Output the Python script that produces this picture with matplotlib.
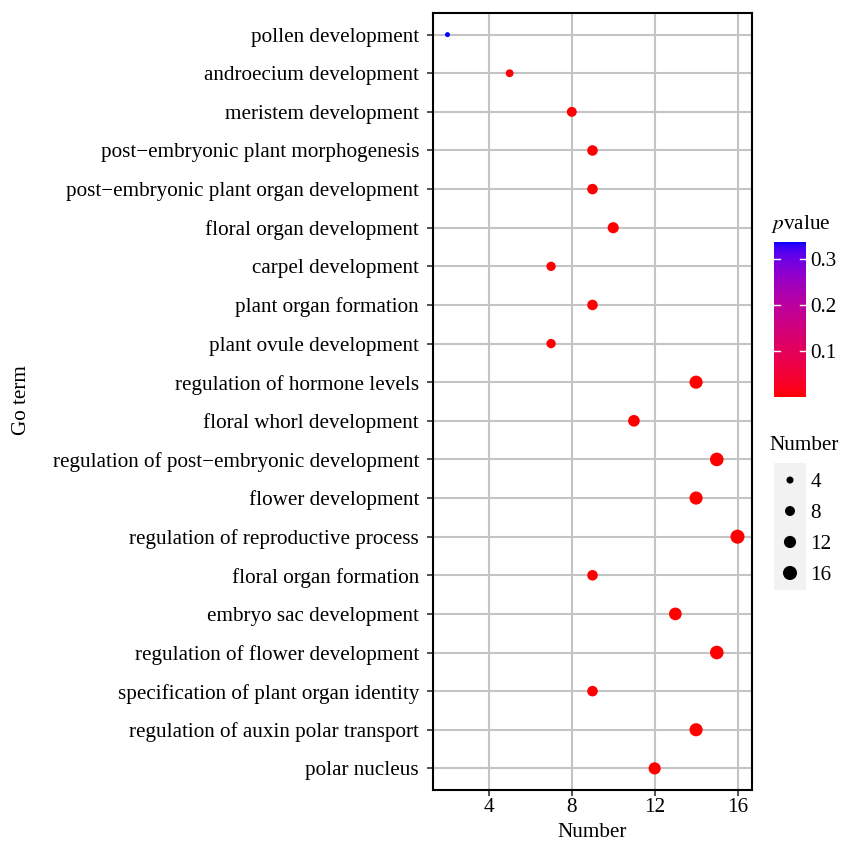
import matplotlib
matplotlib.use('Agg')
import matplotlib.pyplot as plt
import numpy as np
from matplotlib.colors import ListedColormap, Normalize

plt.rcParams['font.family'] = ['Liberation Serif', 'DejaVu Serif']

# GO terms, top to bottom
terms = ['pollen development', 'androecium development', 'meristem development',
         'post\u2212embryonic plant morphogenesis', 'post\u2212embryonic plant organ development',
         'floral organ development', 'carpel development', 'plant organ formation',
         'plant ovule development', 'regulation of hormone levels', 'floral whorl development',
         'regulation of post\u2212embryonic development', 'flower development',
         'regulation of reproductive process', 'floral organ formation',
         'embryo sac development', 'regulation of flower development',
         'specification of plant organ identity', 'regulation of auxin polar transport',
         'polar nucleus']
counts = [2, 5, 8, 9, 9, 10, 7, 9, 7, 14, 11, 15, 14, 16, 9, 13, 15, 9, 14, 12]
pvalues = [0.337, 0.004, 0.003, 0.002, 0.002, 0.002, 0.003, 0.002, 0.003, 0.001,
           0.001, 0.001, 0.001, 0.001, 0.002, 0.001, 0.001, 0.002, 0.001, 0.001]
size_breaks = [4, 8, 12, 16]
cbar_ticks = [0.1, 0.2, 0.3]

FS = 15.2


def diam_px(n):
    # point diameter in pixels, sqrt-scaled like ggplot's scale_size
    return 5 + 3.5 * (np.sqrt(n) - np.sqrt(2))


def area_pt(n):
    return (np.asarray(diam_px(np.asarray(n, float))) * 0.72) ** 2


# red -> blue gradient interpolated in CIE Lab (as ggplot does)
M = np.array([[0.4124, 0.3576, 0.1805], [0.2126, 0.7152, 0.0722], [0.0193, 0.1192, 0.9505]])
WP = np.array([0.95047, 1.0, 1.08883])


def rgb2lab(rgb):
    c = np.asarray(rgb, float)
    lin = np.where(c <= 0.04045, c / 12.92, ((c + 0.055) / 1.055) ** 2.4)
    xyz = M @ lin / WP
    f = np.where(xyz > 216 / 24389, np.cbrt(xyz), (24389 / 27 * xyz + 16) / 116)
    return np.array([116 * f[1] - 16, 500 * (f[0] - f[1]), 200 * (f[1] - f[2])])


def lab2rgb(lab):
    L, a, b = lab
    fy = (L + 16) / 116
    fx = fy + a / 500
    fz = fy - b / 200
    f = np.array([fx, fy, fz])
    xyz = np.where(f ** 3 > 216 / 24389, f ** 3, (116 * f - 16) / (24389 / 27)) * WP
    lin = np.linalg.solve(M, xyz)
    lin = np.clip(lin, 0, 1)
    c = np.where(lin <= 0.0031308, 12.92 * lin, 1.055 * lin ** (1 / 2.4) - 0.055)
    return np.clip(c, 0, 1)


lab_lo, lab_hi = rgb2lab([1, 0, 0]), rgb2lab([0, 0, 1])
cmap = ListedColormap([lab2rgb(lab_lo + t * (lab_hi - lab_lo)) for t in np.linspace(0, 1, 256)])
norm = Normalize(vmin=min(pvalues), vmax=max(pvalues))

fig = plt.figure(figsize=(8.42, 8.46), dpi=100)
ax = fig.add_axes([433 / 842, 56 / 846, 319 / 842, 777 / 846])

ypos = np.arange(len(terms))[::-1]
ax.scatter(counts, ypos, s=area_pt(counts), c=pvalues, cmap=cmap, norm=norm,
           edgecolors='none', zorder=3)
ax.set_xlim(1.3, 16.7)
ax.set_ylim(-0.56, len(terms) - 0.44)
ax.set_yticks(ypos)
ax.set_yticklabels(terms, fontsize=FS)
ax.set_xticks(size_breaks)
ax.tick_params(axis='x', labelsize=FS, length=4, width=1.2, color='#333333', pad=2)
ax.tick_params(axis='y', length=4, width=1.2, color='#333333', pad=6)
ax.grid(True, color='#C4C4C4', lw=1.5, zorder=0)
ax.set_axisbelow(True)
for sp in ax.spines.values():
    sp.set_linewidth(1.5)
ax.set_xlabel('Number', fontsize=FS, labelpad=4)
fig.text(22 / 842, 1 - 400 / 846, 'Go term', rotation=90, fontsize=FS,
         ha='center', va='center')

# colour bar
cax = fig.add_axes([774 / 842, 1 - 397 / 846, 32 / 842, 155 / 846])
grad = np.linspace(norm.vmin, norm.vmax, 256).reshape(-1, 1)
cax.imshow(grad, aspect='auto', cmap=cmap, norm=norm, origin='lower',
           extent=[0, 1, norm.vmin, norm.vmax])
cax.set_xlim(0, 1)
cax.set_ylim(norm.vmin, norm.vmax)
for t in cbar_ticks:
    cax.plot([0, 0.2], [t, t], color='white', lw=1)
    cax.plot([0.8, 1], [t, t], color='white', lw=1)
cax.set_xticks([])
cax.yaxis.tick_right()
cax.set_yticks(cbar_ticks)
cax.set_yticklabels([str(t) for t in cbar_ticks], fontsize=FS)
cax.tick_params(axis='y', length=0, pad=3)
for sp in cax.spines.values():
    sp.set_visible(False)
fig.text(771 / 842, 1 - 224 / 846, r'$\it{p}$value', fontsize=FS, ha='left', va='center',
         math_fontfamily='stix')

# size legend
lax = fig.add_axes([774 / 842, 1 - 590 / 846, 32 / 842, 127 / 846])
lax.set_facecolor('#F2F2F2')
ly = np.arange(len(size_breaks))[::-1]
lax.scatter([0] * len(size_breaks), ly, s=area_pt(size_breaks), color='black',
            edgecolors='none')
lax.set_xlim(-1, 1)
lax.set_ylim(-0.55, len(size_breaks) - 0.45)
lax.set_xticks([])
lax.yaxis.tick_right()
lax.set_yticks(ly)
lax.set_yticklabels([str(b) for b in size_breaks], fontsize=FS)
lax.tick_params(axis='y', length=0, pad=3)
for sp in lax.spines.values():
    sp.set_visible(False)
fig.text(769 / 842, 1 - 445 / 846, 'Number', fontsize=FS, ha='left', va='center')

fig.savefig('out.png', dpi=100)
